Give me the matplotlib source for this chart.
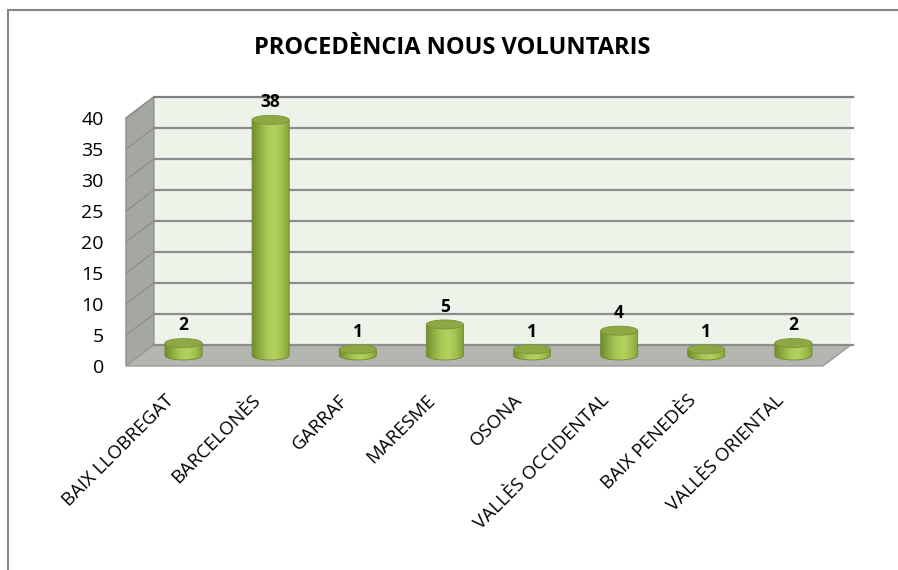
import numpy as np
import matplotlib.pyplot as plt
import matplotlib.transforms as mtrans
from matplotlib.patches import Polygon, Ellipse, Rectangle
from matplotlib.colors import LinearSegmentedColormap

categories = ['BAIX LLOBREGAT', 'BARCELONÈS', 'GARRAF', 'MARESME', 'OSONA',
              'VALLÈS OCCIDENTAL', 'BAIX PENEDÈS', 'VALLÈS ORIENTAL']
values = [2, 38, 1, 5, 1, 4, 1, 2]
yticks = [0, 5, 10, 15, 20, 25, 30, 35, 40]
title = 'PROCEDÈNCIA NOUS VOLUNTARIS'

plt.rcParams['font.family'] = ['Open Sans', 'DejaVu Sans']

fig = plt.figure(figsize=(8.98, 5.70), dpi=100, facecolor='white')
ax = fig.add_axes([126 / 898, 204 / 570, 697 / 898, 248 / 570])
ax.set_facecolor('none')

n = len(categories)
xa, xb = -0.5, n - 0.5
ymax = yticks[-1]
dx, dy = 0.32, 3.4        # depth of the 3d box, in data units
w, eh = 0.213, 0.73       # cylinder half width / ellipse half height

# back wall
ax.add_patch(Polygon([(xa + dx, dy), (xb + dx, dy), (xb + dx, ymax + dy), (xa + dx, ymax + dy)],
                     closed=True, facecolor='#eef3ea', edgecolor='none', zorder=0, clip_on=False))
# left wall
ax.add_patch(Polygon([(xa, 0), (xa + dx, dy), (xa + dx, ymax + dy), (xa, ymax)],
                     closed=True, facecolor='#a4a7a2', edgecolor='#8e908c', lw=1, zorder=0.5, clip_on=False))
# floor
ax.add_patch(Polygon([(xa, 0), (xb, 0), (xb + dx, dy), (xa + dx, dy)],
                     closed=True, facecolor='#b4b6b2', edgecolor='#9a9c98', lw=1, zorder=0.5, clip_on=False))

# gridlines on the back and left walls
for t in yticks:
    c = '#7f7f7f' if t == ymax else '#8c8c8c'
    ax.plot([xa + dx, xb + dx + 0.02], [t + dy, t + dy], color=c, lw=1.6, zorder=0.6, clip_on=False)
    if 0 < t:
        ax.plot([xa, xa + dx], [t, t + dy], color='#8e908c', lw=1, zorder=0.6, clip_on=False)

# cylinders
cmap = LinearSegmentedColormap.from_list(
    'cyl', ['#728d2f', '#8fad42', '#a9c957', '#b3d25f', '#a0c04f', '#80a036'])
grad = np.linspace(0, 1, 80).reshape(1, -1)
th = np.linspace(np.pi, 2 * np.pi, 40)
for i, v in enumerate(values):
    cx = i + dx / 2
    y0 = dy / 2
    y1 = v + dy / 2
    pts = [(cx - w, y1)] + [(cx + w * np.cos(a), y0 + eh * np.sin(a)) for a in th] + [(cx + w, y1)]
    body = Polygon(pts, closed=True, transform=ax.transData, facecolor='none', edgecolor='none')
    im = ax.imshow(grad, cmap=cmap, extent=[cx - w, cx + w, y0 - eh, y1],
                   aspect='auto', zorder=3, interpolation='bilinear')
    im.set_clip_path(body)
    ax.add_patch(Polygon(pts, closed=True, facecolor='none', edgecolor='#6f8a2e', lw=0.6, zorder=3.1))
    ax.add_patch(Ellipse((cx, y1), 2 * w, 2 * eh, facecolor='#8ea845', edgecolor='#7a9538',
                         lw=0.6, zorder=3.2, clip_on=False))
    ax.annotate(str(v), (cx, y1 + eh), xytext=(0, 3), textcoords='offset points',
                ha='center', va='bottom', fontsize=12.5, fontweight='bold', annotation_clip=False)

ax.set_xlim(xa, xb)
ax.set_ylim(0, ymax)
ax.set_xticks(np.arange(n))
ax.set_xticklabels(categories, rotation=45, ha='right', va='top', rotation_mode='anchor', fontsize=13.5)
ax.set_yticks(yticks)
ax.tick_params(axis='x', length=0, pad=18)
ax.tick_params(axis='y', length=0, pad=16, labelsize=14)
shift = mtrans.ScaledTranslation(-0.05, 0, fig.dpi_scale_trans)
for lbl in ax.get_xticklabels():
    lbl.set_transform(lbl.get_transform() + shift)
for s in ax.spines.values():
    s.set_visible(False)

fig.text(0.503, 1 - 48 / 570, title, ha='center', va='center', fontsize=17, fontweight='bold')

# outer chart border (only left and top visible)
fig.patches.append(Rectangle((8 / 898, -0.1), 1.2, 1.1 - 10 / 570, transform=fig.transFigure,
                             facecolor='none', edgecolor='#868686', lw=1.5))

fig.savefig('out.png', dpi=100, facecolor='white')
